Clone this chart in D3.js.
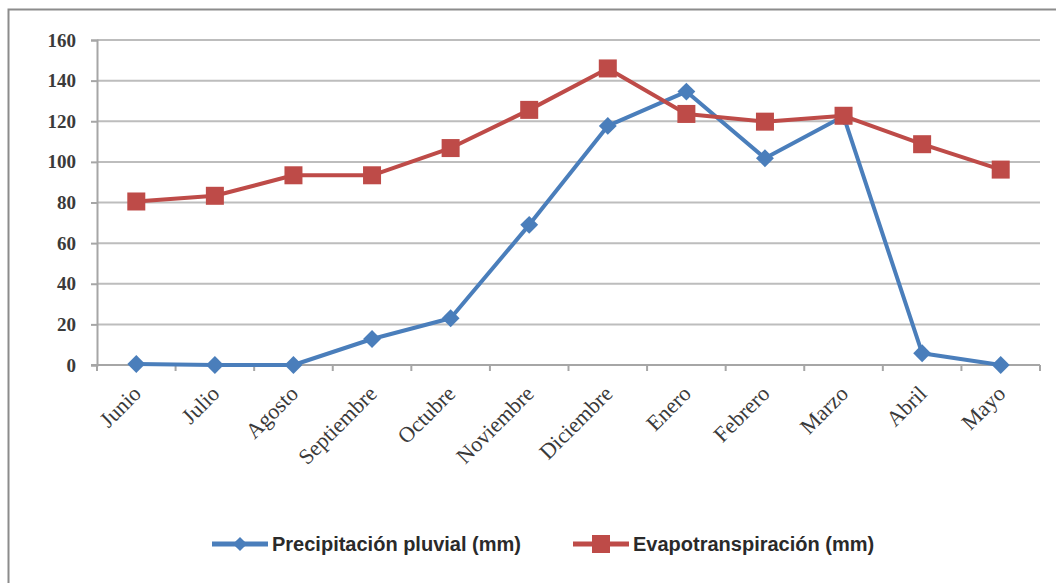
<!DOCTYPE html>
<html>
<head>
<meta charset="utf-8">
<script src="https://cdn.jsdelivr.net/npm/d3@7"></script>
<style>
  body { margin: 0; background: #fff; }
  svg { display: block; }
</style>
</head>
<body>
<svg width="1056" height="583"></svg>
<script>
// months and series values
var months = ["Junio", "Julio", "Agosto", "Septiembre", "Octubre", "Noviembre",
              "Diciembre", "Enero", "Febrero", "Marzo", "Abril", "Mayo"];
var precipitacion = [0.5, 0, 0, 12.8, 23, 69, 117.7, 134.6, 101.8, 122.5, 5.8, 0];
var evapotranspiracion = [80.5, 83.3, 93.4, 93.4, 106.8, 125.6, 146, 123.6, 119.8, 122.7, 108.7, 96.2];
var yTicks = [0, 20, 40, 60, 80, 100, 120, 140, 160];

var svg = d3.select("svg"),
    margin = {top: 40, right: 16, bottom: 218, left: 97},
    width = +svg.attr("width") - margin.left - margin.right,
    height = +svg.attr("height") - margin.top - margin.bottom;

// outer frame, it runs past the right and bottom edge
svg.append("rect")
    .attr("x", 8.5).attr("y", 9.5)
    .attr("width", 1100).attr("height", 700)
    .attr("fill", "none")
    .attr("stroke", "#8c8c8c")
    .attr("stroke-width", 2);

var g = svg.append("g").attr("transform", "translate(" + margin.left + "," + margin.top + ")");

var x = d3.scaleBand().domain(months).range([0, width]);
var y = d3.scaleLinear().domain([0, 160]).range([height, 0]);

// gridlines
g.append("g")
    .selectAll("line")
    .data(yTicks.filter(function(d) { return d > 0; }))
    .enter().append("line")
    .attr("x1", 0).attr("x2", width)
    .attr("y1", function(d) { return y(d); })
    .attr("y2", function(d) { return y(d); })
    .attr("stroke", "#bdbdbd")
    .attr("stroke-width", 2);

// y axis
var yAxis = g.append("g")
    .call(d3.axisLeft(y).tickValues(yTicks).tickSize(6).tickPadding(15));
yAxis.select(".domain").attr("stroke", "#a6a6a6").attr("stroke-width", 2);
yAxis.selectAll(".tick line").attr("stroke", "#a6a6a6").attr("stroke-width", 2);
yAxis.selectAll("text")
    .attr("font-family", "Liberation Serif, serif")
    .attr("font-size", 19)
    .attr("font-weight", "bold")
    .attr("fill", "#3a3a3a");

// x axis with ticks at band edges
var xAxis = g.append("g").attr("transform", "translate(0," + height + ")");
xAxis.append("line")
    .attr("x1", -6).attr("x2", width)
    .attr("stroke", "#a6a6a6").attr("stroke-width", 2);
xAxis.selectAll(".edge")
    .data(months.concat(["end"]))
    .enter().append("line")
    .attr("class", "edge")
    .attr("x1", function(d, i) { return i * x.step(); })
    .attr("x2", function(d, i) { return i * x.step(); })
    .attr("y1", 0).attr("y2", 6)
    .attr("stroke", "#a6a6a6").attr("stroke-width", 2);

xAxis.selectAll(".lbl")
    .data(months)
    .enter().append("text")
    .attr("class", "lbl")
    .attr("transform", function(d) {
      return "translate(" + (x(d) + x.bandwidth() / 2 + 6) + ",30) rotate(-45)";
    })
    .attr("text-anchor", "end")
    .attr("font-family", "Liberation Serif, serif")
    .attr("font-size", 22)
    .attr("fill", "#3a3a3a")
    .text(function(d) { return d; });

var cx = function(d, i) { return x(months[i]) + x.bandwidth() / 2; };

var line = d3.line()
    .x(function(d, i) { return cx(d, i); })
    .y(function(d) { return y(d); });

var blue = "#4a7ebb", red = "#be4b48";

// precipitation
g.append("path")
    .datum(precipitacion)
    .attr("fill", "none")
    .attr("stroke", blue)
    .attr("stroke-width", 4)
    .attr("stroke-linejoin", "round")
    .attr("d", line);

// evapotranspiration
g.append("path")
    .datum(evapotranspiracion)
    .attr("fill", "none")
    .attr("stroke", red)
    .attr("stroke-width", 4)
    .attr("stroke-linejoin", "round")
    .attr("d", line);

var diamond = d3.symbol().type(d3.symbolSquare).size(160);

g.selectAll(".dia")
    .data(precipitacion)
    .enter().append("path")
    .attr("class", "dia")
    .attr("d", diamond)
    .attr("transform", function(d, i) { return "translate(" + cx(d, i) + "," + y(d) + ") rotate(45)"; })
    .attr("fill", blue);

g.selectAll(".sq")
    .data(evapotranspiracion)
    .enter().append("rect")
    .attr("class", "sq")
    .attr("x", function(d, i) { return cx(d, i) - 9; })
    .attr("y", function(d) { return y(d) - 9; })
    .attr("width", 18).attr("height", 18)
    .attr("fill", red);

// legend
var legend = svg.append("g").attr("transform", "translate(0,544)");
var legendItems = [
  {name: "Precipitación pluvial (mm)", color: blue, x: 212, type: "diamond"},
  {name: "Evapotranspiración (mm)", color: red, x: 573, type: "square"}
];
legendItems.forEach(function(it) {
  legend.append("line")
      .attr("x1", it.x).attr("x2", it.x + 56)
      .attr("stroke", it.color).attr("stroke-width", 5);
  if (it.type == "diamond") {
    legend.append("path")
        .attr("d", d3.symbol().type(d3.symbolSquare).size(100))
        .attr("transform", "translate(" + (it.x + 28) + ",0) rotate(45)")
        .attr("fill", it.color);
  } else {
    legend.append("rect")
        .attr("x", it.x + 19).attr("y", -9)
        .attr("width", 18).attr("height", 18)
        .attr("fill", it.color);
  }
  legend.append("text")
      .attr("x", it.x + 60)
      .attr("y", 7)
      .attr("font-family", "Liberation Sans Narrow, Liberation Sans, sans-serif")
      .attr("font-size", 20)
      .attr("font-weight", "bold")
      .attr("fill", "#2a2a2a")
      .text(it.name);
});
</script>
</body>
</html>
